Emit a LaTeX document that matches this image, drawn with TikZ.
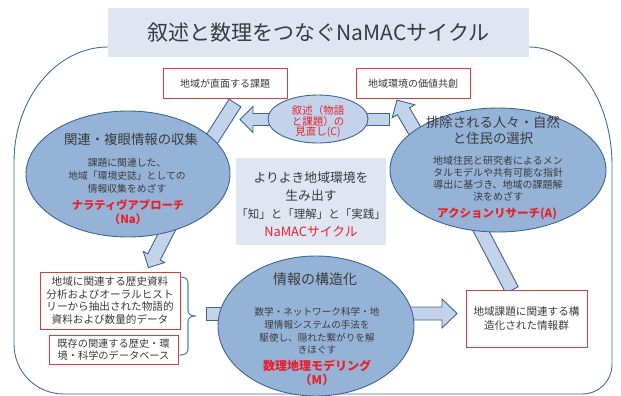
\documentclass[tikz,border=0pt]{standalone}
\usepackage{fontspec}
\setmainfont{Noto Sans CJK JP}
\usetikzlibrary{shapes.geometric}
\definecolor{ellfill}{HTML}{95B3D7}
\definecolor{ellline}{HTML}{3C6593}
\definecolor{smallfill}{HTML}{C3D4EA}
\definecolor{blkfill}{HTML}{C3D4EA}
\definecolor{blkline}{HTML}{3C6593}
\definecolor{titlefill}{HTML}{DFE6F2}
\definecolor{framecol}{HTML}{3F6E9F}
\definecolor{boxred}{HTML}{E0393E}
\definecolor{redtext}{HTML}{E8202A}
\definecolor{textgray}{HTML}{3A3A3A}
\definecolor{bracecol}{HTML}{4F81BD}
\tikzset{
  ell/.style={ellipse, draw=ellline, fill=ellfill, line width=0.9pt, inner sep=0pt},
  smallell/.style={ellipse, draw=ellline, fill=smallfill, line width=0.9pt, inner sep=0pt},
  blk/.style={draw=blkline, fill=blkfill, line width=0.9pt, line join=miter},
  redbox/.style={draw=boxred, fill=white, line width=1pt, inner sep=0pt, align=center, text=textgray},
  txt/.style={inner sep=0pt, align=center, text=textgray},
  redtxt/.style={inner sep=0pt, align=center, text=redtext},
  panel/.style={fill=titlefill, inner sep=0pt, align=center, text=textgray},
}
\begin{document}
\begin{tikzpicture}[x=1pt,y=-1pt]
\useasboundingbox (0,0) rectangle (621,396);
% outer frame
\draw[framecol, line width=0.9pt] (108,47) .. controls (56,47) and (14,99) .. (14,162)
  -- (14,344) .. controls (14,372) and (36,394) .. (64,394)
  -- (582,394) .. controls (599,394) and (612,381) .. (612,364)
  -- (612,165) .. controls (612,100) and (575,47) .. (529,47) -- cycle;
% title
\node[panel, minimum width=421pt, minimum height=49pt, font=\fontsize{21}{25}\selectfont] (title) at (318.5,32.5) {叙述と数理をつなぐNaMACサイクル};
% block arrows and bars (below ellipses)
\draw[blk] (275,113.5) -- (253,113.5) -- (253,106.5) -- (240,119.5) -- (253,132.5) -- (253,125.5) -- (275,125.5) -- cycle;
\draw[blk] (360,113) -- (389,113) -- (389,125) -- (360,125) -- cycle;
\draw[blk] (433.1,148.5) -- (409.6,107.8) -- (414.8,104.8) -- (397,100) -- (392.2,117.8) -- (397.4,114.8) -- (420.9,155.5) -- cycle;
\draw[blk] (240.9,106.8) -- (229.1,99.2) -- (197.1,149.2) -- (208.9,156.8) -- cycle;
\draw[blk] (182.2,217.2) -- (160.2,260.2) -- (164.7,262.5) -- (148.5,267.7) -- (143.3,251.5) -- (147.8,253.8) -- (169.8,210.8) -- cycle;
\draw[blk] (476.2,206.7) -- (518.2,286.7) -- (505.8,293.3) -- (463.8,213.3) -- cycle;
\draw[blk] (206,307) -- (232,307) -- (232,320) -- (206,320) -- cycle;
\draw[blk] (400,307) -- (442,307) -- (442,299) -- (457,313.5) -- (442,328) -- (442,320) -- (400,320) -- cycle;
% ellipses
\node[ell, minimum width=204pt, minimum height=126pt] (L) at (128,174) {};
\node[ell, minimum width=216pt, minimum height=124pt] (R) at (498,170) {};
\node[ell, minimum width=196pt, minimum height=140pt] (B) at (316,326) {};
\node[smallell, minimum width=100pt, minimum height=48pt] (C) at (318,119) {};
% center panel
\node[panel, minimum width=150pt, minimum height=87pt] (mid) at (311,201.5) {};
% red boxes
\node[redbox, minimum width=124pt, minimum height=29pt, font=\fontsize{10}{12}\selectfont] (b1) at (225,83.5) {地域が直面する課題};
\node[redbox, minimum width=114pt, minimum height=29pt, font=\fontsize{10}{12}\selectfont] (b2) at (413,83.5) {地域環境の価値共創};
\node[redbox, minimum width=140pt, minimum height=57pt, font=\fontsize{10.6}{12.8}\selectfont] (b3) at (110,300.5) {地域に関連する歴史資料\\分析およびオーラルヒスト\\リーから抽出された物語的\\資料および数量的データ};
\node[redbox, minimum width=129pt, minimum height=29pt, font=\fontsize{10.2}{11.5}\selectfont] (b4) at (113.5,349.5) {既存の関連する歴史・環\\境・科学のデータベース};
\node[redbox, minimum width=121pt, minimum height=57pt, font=\fontsize{10.6}{14}\selectfont] (b5) at (526.5,318.5) {地域課題に関連する構\\造化された情報群};
% brace
\draw[bracecol, line width=1.1pt] (180,277) .. controls (185,277) and (188,279) .. (188,283) -- (188,310)
  .. controls (188,314) and (190,316) .. (196,316) .. controls (190,316) and (188,318) .. (188,322)
  -- (188,349) .. controls (188,353) and (185,355) .. (180,355);
% texts
\node[redtxt, font=\fontsize{10.5}{10.5}\selectfont] (ct) at (318,122) {叙述（物語\\と課題）の\\見直し(C)};
\node[txt, font=\fontsize{13.4}{16}\selectfont] (Lh) at (131,139) {関連・複眼情報の収集};
\node[txt, font=\fontsize{9.8}{13}\selectfont] (Lb) at (127,176) {課題に関連した、\\地域「環境史誌」としての\\情報収集をめざす};
\node[redtxt, font=\fontsize{11.3}{14}\selectfont\bfseries] (Lr) at (128,212) {ナラティヴアプローチ\\（Na）};
\node[txt, font=\fontsize{13.4}{16}\selectfont] (Rh) at (493,130) {排除される人々・自然\\と住民の選択};
\node[txt, font=\fontsize{10}{12.2}\selectfont] (Rb) at (498,178.5) {地域住民と研究者によるメン\\タルモデルや共有可能な指針\\導出に基づき、地域の課題解\\決をめざす};
\node[redtxt, font=\fontsize{11.5}{14}\selectfont\bfseries] (Rr) at (497,214) {アクションリサーチ(A)};
\node[txt, font=\fontsize{14}{16}\selectfont] (Bh) at (315,279) {情報の構造化};
\node[txt, font=\fontsize{9.6}{12.7}\selectfont] (Bb) at (317,331) {数学・ネットワーク科学・地\\理情報システムの手法を\\駆使し、隠れた繋がりを解\\きほぐす};
\node[redtxt, font=\fontsize{12}{14}\selectfont\bfseries] (Br) at (317,373) {数理地理モデリング\\（M）};
\node[txt, font=\fontsize{12.8}{18}\selectfont] (mt) at (311,204) {よりよき地域環境を\\生み出す\\{\fontsize{11.5}{18}\selectfont 「知」と「理解」と「実践」}\\\textcolor{redtext}{NaMACサイクル}};
\end{tikzpicture}
\end{document}
